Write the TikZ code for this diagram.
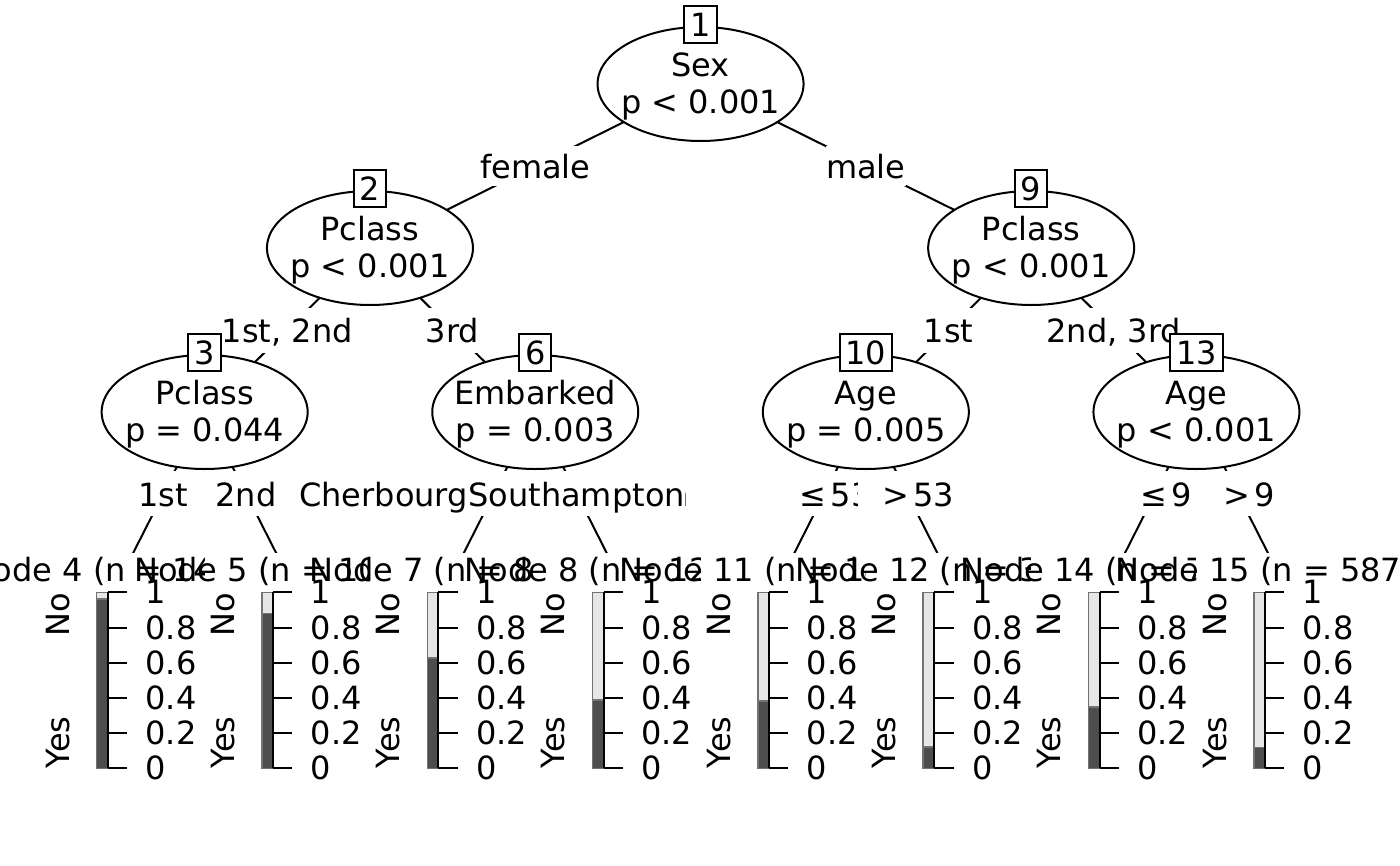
\documentclass[tikz,border=0pt]{standalone}
\usepackage{fontspec}
\setmainfont{DejaVu Sans}
\usetikzlibrary{shapes.geometric,calc}
\definecolor{barDark}{HTML}{4D4D4D}
\definecolor{barLight}{HTML}{E6E6E6}
\tikzset{
  txt/.style={inner sep=0pt, font=\fontsize{32}{38}\selectfont},
  edge/.style={draw=black, line width=2pt},
  ell/.style={ellipse, draw=black, fill=white, line width=2pt, minimum width=206pt, minimum height=114pt, inner sep=0pt},
  idbox/.style={txt, draw=black, fill=white, line width=2pt, inner xsep=6pt, text height=23.3pt, text depth=0pt, inner ysep=6.8pt},
  elab/.style={txt, fill=white, minimum height=40pt, text height=25pt, text depth=0pt},
  elabb/.style={txt, fill=white, minimum height=45pt, text height=25pt, text depth=0pt},
  barline/.style={draw=black!55, line width=1.5pt},
  axisline/.style={draw=black, line width=2pt},
}
\newcommand{\InnerNode}[4]{% #1 id, #2 coordinate, #3 variable, #4 p-value
  \node[ell] (e#1) at (#2) {};
  \node[txt, anchor=base] (v#1) at ($(#2)+(0,-8)$) {#3};
  \node[txt, anchor=base] (p#1) at ($(#2)+(0,29)$) {#4};
  \node[idbox] (b#1) at ($(#2)+(0,-59.5)$) {#1};
}
\newcommand{\RelLab}[2]{\phantom{0}\kern4pt#1\kern4.5pt#2\kern2pt}
\newcommand{\TermPanel}[4]{% #1 id, #2 target x, #3 n, #4 share of Yes
  \pgfmathsetmacro{\ax}{#2-14.3}
  \pgfmathsetmacro{\dk}{768.3-176*#4}
  \fill[white] (#2-82.65,553) rectangle (#2+82.65,865);
  \node[txt, anchor=base] (title#1) at (\ax,581.7) {Node #1 (n = #3)};
  \node[txt, rotate=90, anchor=base east] (no#1) at (\ax-38.7,592.3) {No};
  \node[txt, rotate=90, anchor=base west] (yes#1) at (\ax-38.7,768.3) {Yes};
  \fill[barLight] (\ax-11,592.3) rectangle (\ax,768.3);
  \fill[barDark] (\ax-11,768.3) rectangle (\ax,\dk);
  \draw[barline] (\ax-11,592.3) rectangle (\ax,768.3);
  \draw[barline] (\ax-11,\dk) -- (\ax,\dk);
  \draw[axisline] (\ax,592.3) -- (\ax,768.3);
  \foreach \v/\l in {0/0,0.2/0.2,0.4/0.4,0.6/0.6,0.8/0.8,1/1} {
    \draw[axisline] (\ax,768.3-176*\v) -- ++(19.3,0);
    \node[txt, anchor=west] at (\ax+37.6,768.3-176*\v) {\l};
  }
}
\begin{document}
\begin{tikzpicture}[x=1pt, y=-1pt]
\useasboundingbox (0,0) rectangle (1400,865);
% centres of the inner nodes and the tops of the terminal panels
\coordinate (c1) at (700.55,84);
\coordinate (c2) at (369.95,248);
\coordinate (c9) at (1031.15,248);
\coordinate (c3) at (204.65,412);
\coordinate (c6) at (535.25,412);
\coordinate (c10) at (865.85,412);
\coordinate (c13) at (1196.45,412);
\coordinate (t4) at (122,575);
\coordinate (t5) at (287.3,575);
\coordinate (t7) at (452.6,575);
\coordinate (t8) at (617.9,575);
\coordinate (t11) at (783.2,575);
\coordinate (t12) at (948.5,575);
\coordinate (t14) at (1113.8,575);
\coordinate (t15) at (1279.1,575);
% node 1
\draw[edge] (c1) -- (c2);
\draw[edge] (c1) -- (c9);
\InnerNode{1}{c1}{Sex}{p < 0.001}
\node[elab] (l12) at ($(c1)!0.5!(c2)$) {female};
\node[elab] (l19) at ($(c1)!0.5!(c9)$) {male};
% node 2
\draw[edge] (c2) -- (c3);
\draw[edge] (c2) -- (c6);
\InnerNode{2}{c2}{Pclass}{p < 0.001}
\node[elabb] (l23) at ($(c2)!0.5!(c3)$) {1st, 2nd};
\node[elabb] (l26) at ($(c2)!0.5!(c6)$) {3rd};
% node 3
\draw[edge] (c3) -- (t4);
\draw[edge] (c3) -- (t5);
\InnerNode{3}{c3}{Pclass}{p = 0.044}
\node[elabb] (l34) at ($(c3)!0.5!(t4)$) {1st};
\node[elabb] (l35) at ($(c3)!0.5!(t5)$) {2nd};
\TermPanel{4}{122}{144}{0.962}
\TermPanel{5}{287.3}{106}{0.88}
% node 6
\draw[edge] (c6) -- (t7);
\draw[edge] (c6) -- (t8);
\InnerNode{6}{c6}{Embarked}{p = 0.003}
\node[elabb] (l67) at ($(c6)!0.5!(t7)$) {Cherbourg, Queenstown};
\node[elabb] (l68) at ($(c6)!0.5!(t8)$) {Southampton};
\TermPanel{7}{452.6}{87}{0.627}
\TermPanel{8}{617.9}{129}{0.388}
% node 9
\draw[edge] (c9) -- (c10);
\draw[edge] (c9) -- (c13);
\InnerNode{9}{c9}{Pclass}{p < 0.001}
\node[elabb] (l910) at ($(c9)!0.5!(c10)$) {1st};
\node[elabb] (l913) at ($(c9)!0.5!(c13)$) {2nd, 3rd};
% node 10
\draw[edge] (c10) -- (t11);
\draw[edge] (c10) -- (t12);
\InnerNode{10}{c10}{Age}{p = 0.005}
\node[elabb] (l1011) at ($(c10)!0.5!(t11)$) {\RelLab{≤}{53}};
\node[elabb] (l1012) at ($(c10)!0.5!(t12)$) {\RelLab{>}{53}};
\TermPanel{11}{783.2}{146}{0.383}
\TermPanel{12}{948.5}{33}{0.12}
% node 13
\draw[edge] (c13) -- (t14);
\draw[edge] (c13) -- (t15);
\InnerNode{13}{c13}{Age}{p < 0.001}
\node[elabb] (l1314) at ($(c13)!0.5!(t14)$) {\RelLab{≤}{9}};
\node[elabb] (l1315) at ($(c13)!0.5!(t15)$) {\RelLab{>}{9}};
\TermPanel{14}{1113.8}{77}{0.347}
\TermPanel{15}{1279.1}{587}{0.119}
\end{tikzpicture}
\end{document}
